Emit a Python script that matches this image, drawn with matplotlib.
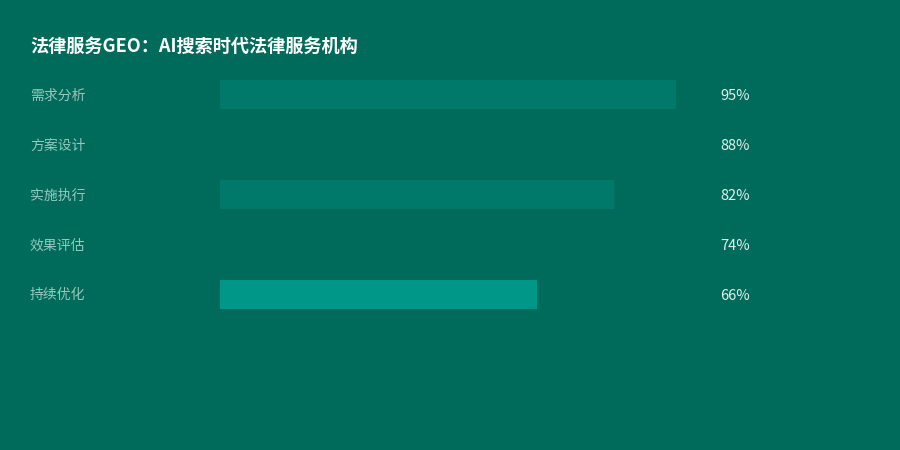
import matplotlib
matplotlib.use('Agg')
import matplotlib.pyplot as plt
from matplotlib.transforms import blended_transform_factory

plt.rcParams['font.family'] = ['Noto Sans CJK SC', 'DejaVu Sans']

title = '法律服务GEO：AI搜索时代法律服务机构'
categories = ['需求分析', '方案设计', '实施执行', '效果评估', '持续优化']
values = [95, 88, 82, 74, 66]
bar_colors = ['#00796b', '#006b5b', '#00796b', '#006b5b', '#009688']

bg = '#006b5b'

fig = plt.figure(figsize=(9, 4.5), dpi=100, facecolor=bg)
ax = fig.add_axes([220 / 900, 1 - 319 / 450, 480 / 900, 250 / 450])
ax.set_facecolor(bg)

pos = list(range(len(categories)))
ax.barh(pos, values, height=0.58, color=bar_colors, linewidth=0)
ax.set_xlim(0, 100)
ax.set_ylim(len(categories) - 0.5, -0.5)
ax.axis('off')

# labels sit a touch below the bar centre
tr = blended_transform_factory(fig.transFigure, ax.transData)
for i, (cat, v) in enumerate(zip(categories, values)):
    ax.text(30 / 900, i + 0.03, cat, transform=tr, ha='left', va='center',
            fontsize=10, color='#94c9bc')
    ax.text(720 / 900, i + 0.03, f'{v}%', transform=tr, ha='left', va='center',
            fontsize=10.5, color='#e0f2ee')

fig.text(30 / 900, 1 - 46 / 450, title, ha='left', va='center',
         fontsize=13.1, fontweight='bold', color='white')

fig.savefig('out.png', dpi=100, facecolor=bg)
